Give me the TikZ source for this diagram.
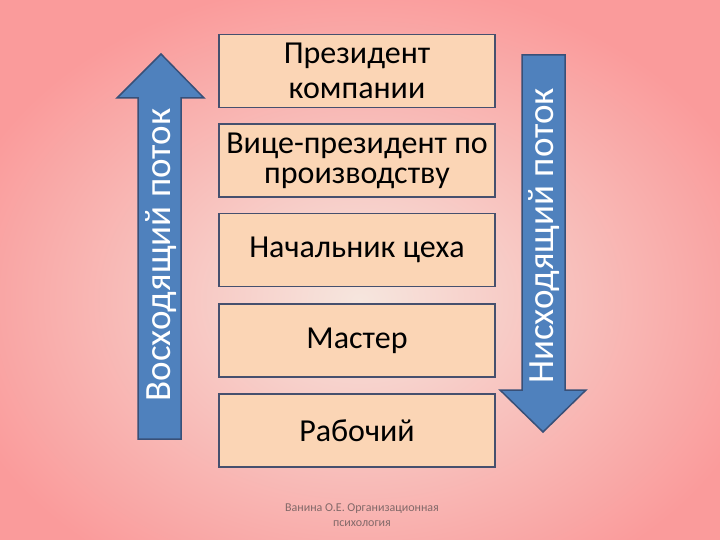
\documentclass[tikz,border=0pt]{standalone}
\usepackage{fontspec}
\setmainfont{Carlito}
\definecolor{boxfill}{RGB}{251,213,181}
\definecolor{boxline}{RGB}{70,80,110}
\definecolor{arrfill}{RGB}{79,129,189}
\definecolor{arrline}{RGB}{56,80,120}
\definecolor{bgin}{RGB}{246,230,222}
\definecolor{bgout}{RGB}{250,155,155}
\definecolor{foot}{RGB}{130,105,105}
\tikzset{
  levelbox/.style={draw=boxline, line width=1.8pt, fill=boxfill, minimum width=276pt,
    minimum height=73pt, inner sep=2pt, align=center, font=\fontsize{32}{35}\selectfont, text=black},
  flowarrow/.style={draw=arrline, line width=1.5pt, fill=arrfill, line join=miter},
  flowtext/.style={rotate=90, text=white, font=\fontsize{37}{40}\selectfont, inner sep=0pt},
  foottext/.style={text=foot, align=center, font=\fontsize{12}{15}\selectfont}
}
\begin{document}
\begin{tikzpicture}[x=1pt, y=-1pt]
\useasboundingbox (0,0) rectangle (720,540);
\shade[inner color=bgin, outer color=bgout] (-60,-20) rectangle (780,620);
% boxes
\node[levelbox] (b1) at (357,71) {Президент\\компании};
\node[levelbox, font=\fontsize{32}{30}\selectfont] (b2) at (357,160.5) {Вице-президент по\\производству};
\node[levelbox] (b3) at (357,250) {Начальник цеха};
\node[levelbox] (b4) at (357,340.5) {Мастер};
\node[levelbox] (b5) at (357,430.5) {Рабочий};
% left upward arrow
\draw[flowarrow] (138,439) -- (138,98) -- (117,98) -- (161,54) -- (204,98) -- (181,98) -- (181,439) -- cycle;
\node[flowtext] (up) at (161,255) {Восходящий поток};
% right downward arrow
\draw[flowarrow] (522,55) -- (522,390) -- (500,390) -- (543,432) -- (586,390) -- (565,390) -- (565,55) -- cycle;
\node[flowtext] (down) at (544,236) {Нисходящий поток};
% footer
\node[foottext] (ft) at (362,515) {Ванина О.Е. Организационная\\психология};
\end{tikzpicture}
\end{document}
